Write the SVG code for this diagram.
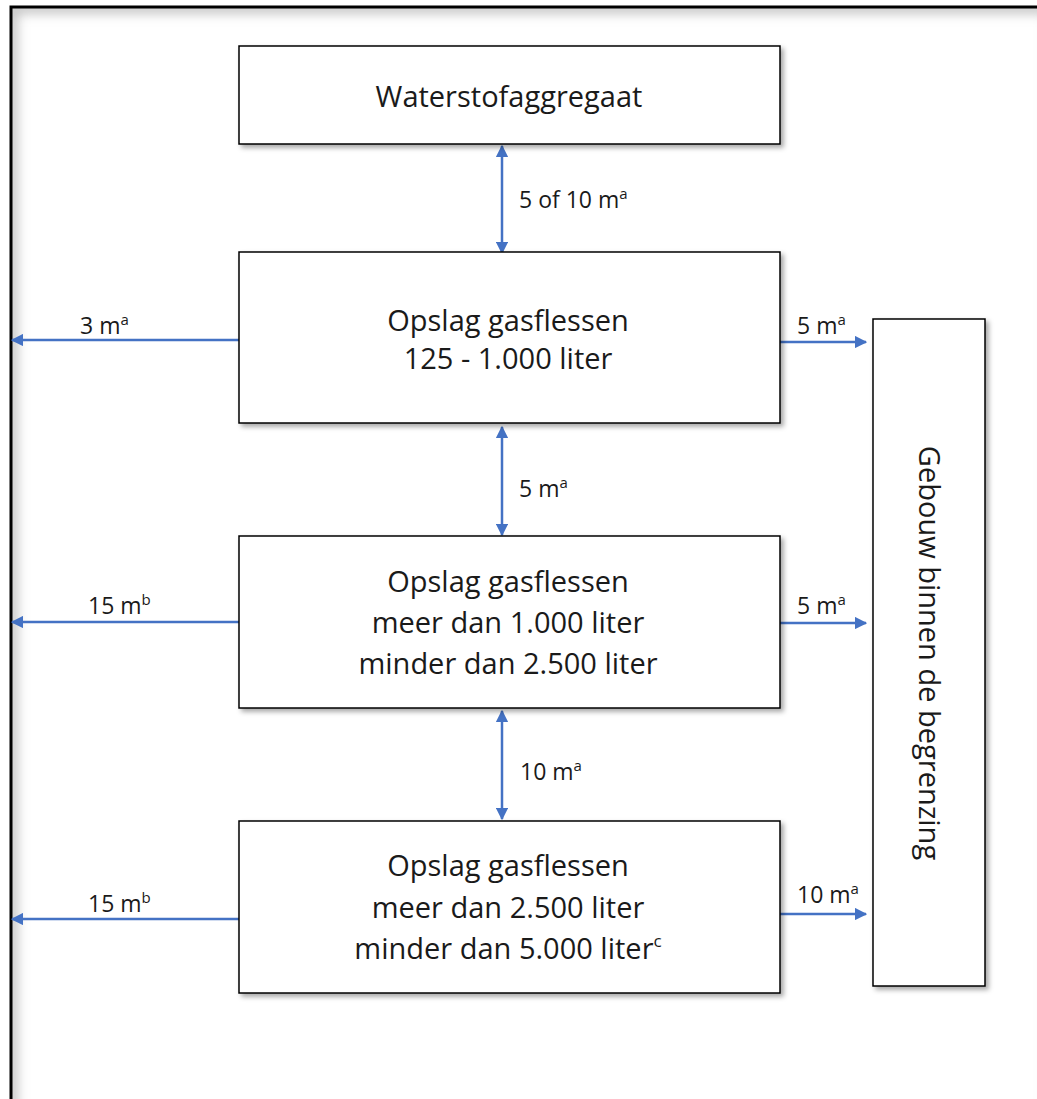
<svg xmlns="http://www.w3.org/2000/svg" width="1037" height="1099" viewBox="0 0 1037 1099">
<style>
.box{fill:#fff;stroke:#000;stroke-width:1.5;filter:url(#sh)}
.t{font-family:"Open Sans","Liberation Sans",Arial,sans-serif;font-size:29px;fill:#1a1a1a;text-anchor:middle}
.l{font-family:"Open Sans","Liberation Sans",Arial,sans-serif;font-size:23px;fill:#1a1a1a}
.c{stroke:#4472C4;stroke-width:2.5;fill:none}
.s{font-size:15px}
</style>
<defs>
<filter id="sh" x="-10%" y="-10%" width="130%" height="130%"><feDropShadow dx="3" dy="3" stdDeviation="2.5" flood-color="#000" flood-opacity="0.35"/></filter>
<filter id="blur"><feGaussianBlur stdDeviation="6"/></filter>
<clipPath id="fc"><rect x="12" y="8" width="1030" height="1100"/></clipPath>
<marker id="ah" viewBox="0 0 10 10" refX="9" refY="5" markerWidth="5" markerHeight="5" orient="auto-start-reverse" markerUnits="strokeWidth"><path d="M0,0 L10,5 L0,10 z" fill="#4472C4"/></marker>
</defs>
<rect width="1037" height="1099" fill="#fff"/>
<g id="frame">
<g clip-path="url(#fc)"><rect x="12" y="8" width="1040" height="1110" fill="none" stroke="#bbb" stroke-width="10" filter="url(#blur)"/></g>
<path d="M11,1099 V7 H1037" fill="none" stroke="#000" stroke-width="3"/>
</g>
<g id="connectors">
<line class="c" x1="502" y1="146" x2="502" y2="253" marker-start="url(#ah)" marker-end="url(#ah)"/>
<line class="c" x1="502" y1="427" x2="502" y2="535" marker-start="url(#ah)" marker-end="url(#ah)"/>
<line class="c" x1="502" y1="711" x2="502" y2="819" marker-start="url(#ah)" marker-end="url(#ah)"/>
<line class="c" x1="239" y1="340" x2="12" y2="340" marker-end="url(#ah)"/>
<line class="c" x1="239" y1="622" x2="12" y2="622" marker-end="url(#ah)"/>
<line class="c" x1="239" y1="919" x2="12" y2="919" marker-end="url(#ah)"/>
<line class="c" x1="780" y1="342" x2="866" y2="342" marker-end="url(#ah)"/>
<line class="c" x1="780" y1="623" x2="866" y2="623" marker-end="url(#ah)"/>
<line class="c" x1="780" y1="914" x2="866" y2="914" marker-end="url(#ah)"/>
<text class="l" x="519" y="208">5 of 10 m<tspan class="s" dy="-9">a</tspan></text>
<text class="l" x="519" y="497">5 m<tspan class="s" dy="-9">a</tspan></text>
<text class="l" x="520" y="780">10 m<tspan class="s" dy="-9">a</tspan></text>
<text class="l" x="80" y="334">3 m<tspan class="s" dy="-9">a</tspan></text>
<text class="l" x="88" y="614">15 m<tspan class="s" dy="-9">b</tspan></text>
<text class="l" x="88" y="912">15 m<tspan class="s" dy="-9">b</tspan></text>
<text class="l" x="797" y="334">5 m<tspan class="s" dy="-9">a</tspan></text>
<text class="l" x="797" y="614">5 m<tspan class="s" dy="-9">a</tspan></text>
<text class="l" x="797" y="903">10 m<tspan class="s" dy="-9">a</tspan></text>
</g>
<g id="n1"><rect class="box" x="239" y="46" width="541" height="98"/><text class="t" x="509" y="107">Waterstofaggregaat</text></g>
<g id="n2"><rect class="box" x="239" y="252" width="541" height="171"/><text class="t" x="508" y="331">Opslag gasflessen</text><text class="t" x="508" y="369">125 - 1.000 liter</text></g>
<g id="n3"><rect class="box" x="239" y="536" width="541" height="172"/><text class="t" x="508" y="592">Opslag gasflessen</text><text class="t" x="508" y="633">meer dan 1.000 liter</text><text class="t" x="508" y="674">minder dan 2.500 liter</text></g>
<g id="n4"><rect class="box" x="239" y="821" width="541" height="172"/><text class="t" x="508" y="876">Opslag gasflessen</text><text class="t" x="508" y="918">meer dan 2.500 liter</text><text class="t" x="508" y="959">minder dan 5.000 liter<tspan font-size="17" dy="-12">c</tspan></text></g>
<g id="n5"><rect class="box" x="873" y="319" width="112" height="667"/><text class="t" transform="translate(919,653) rotate(90)" x="0" y="0">Gebouw binnen de begrenzing</text></g>
</svg>
